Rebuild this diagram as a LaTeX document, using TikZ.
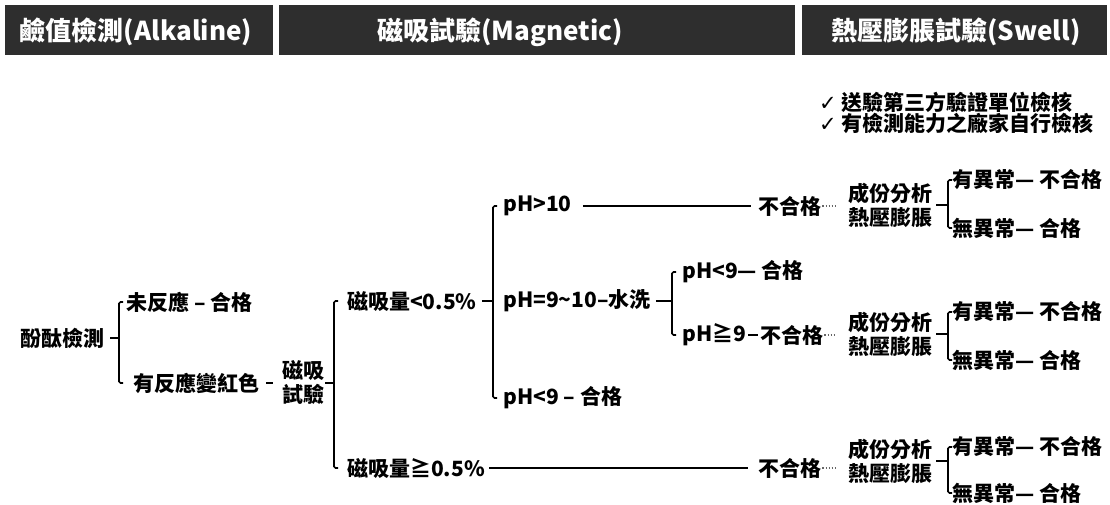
\documentclass[tikz,border=0pt]{standalone}
\usepackage{fontspec}
\setmainfont{Noto Sans CJK TC}
\newfontfamily\symfont{DejaVu Sans}
\usetikzlibrary{positioning}

\begin{document}
\begin{tikzpicture}[x=1pt, y=-1pt,
  txt/.style={anchor=west, inner sep=1pt, font=\bfseries\fontsize{21}{24}\selectfont},
  head/.style={text=white, inner sep=0pt, font=\bfseries\fontsize{26}{30}\selectfont},
  brk/.style={line width=1.6pt, rounded corners=1.5pt},
  link/.style={line width=1.5pt},
  dotline/.style={line width=1.1pt, dotted, black!60}]
  \useasboundingbox (0,0) rectangle (1110,504);
  % banners
  \foreach \i/\xa/\xb/\xt/\t in {1/5/273/136/{鹼值檢測(Alkaline)}, 2/279/795/500/{磁吸試驗(Magnetic)}, 3/802/1107/956/{熱壓膨脹試驗(Swell)}}
  {
    \fill[black!82] (\xa,5) rectangle (\xb,55);
    \node[head] (h\i) at (\xt,32) {\t};
  }
  \node[txt] (chk1) at (818,102) {{\symfont\mdseries ✓} 送驗第三方驗證單位檢核};
  \node[txt] (chk2) at (818,123) {{\symfont\mdseries ✓} 有檢測能力之廠家自行檢核};

  \node[txt] (root) at (19,338) {酚酞檢測};
  \node[txt] (n1) at (125,302) {未反應 – 合格};
  \node[txt] (n2) at (132,383) {有反應變紅色};
  \node[txt, align=left] (mag) at (281,383) {磁吸\\試驗};
  \node[txt] (m1) at (346,301) {磁吸量<0.5\%};
  \node[txt] (m2) at (346,468) {磁吸量≧0.5\%};
  \node[txt] (p1) at (502,206) {pH>10};
  \node[txt] (p2) at (502,301) {pH=9\textasciitilde10–水洗};
  \node[txt] (p3) at (502,398) {pH<9 – 合格};
  \node[txt] (q1) at (681,272) {pH<9— 合格};
  \node[txt] (q2) at (681,335) {pH≧9};
  \node[txt] (f1) at (757,206) {不合格};
  \node[txt] (f2) at (759,335) {不合格};
  \node[txt] (f3) at (757,468) {不合格};

  \coordinate (k1) at (119,338);
  \coordinate (k2) at (334,383);
  \coordinate (k3) at (493,301);
  \coordinate (k4) at (672,301);

  \path[link]
  (root) edge[shorten <=5pt] (k1)
  (n2) edge[shorten <=6pt, shorten >=8pt] (mag)
  (mag) edge (k2)
  (m1) edge[shorten <=4pt] (k3)
  (p2) edge[shorten <=4pt] (k4)
  (p1) edge[shorten <=10pt, shorten >=6pt] (f1)
  (q2) edge[shorten <=1pt, shorten >=1pt] (f2)
  (m2) edge[shorten <=3pt, shorten >=9pt] (f3)
  ;
  \draw[brk] ([xshift=4pt]k1 |- n1) -| (k1) |- ([xshift=4pt]k1 |- n2);
  \draw[brk] ([xshift=4pt]k2 |- m1) -| (k2) |- ([xshift=4pt]k2 |- m2);
  \draw[brk] ([xshift=4pt]k3 |- p1) -| (k3) |- ([xshift=4pt]k3 |- p3);
  \draw[brk] ([xshift=4pt]k4 |- q1) -| (k4) |- ([xshift=4pt]k4 |- q2);

  % component analysis / swell test
  \foreach \i/\ya/\yt/\yb in {1/205/180/228, 2/334/312/360, 3/461/447/493}
  {
    \node[txt, align=left] (a\i) at (847,\ya) {成份分析\\熱壓膨脹};
    \coordinate (ka\i) at (948,\ya);
    \node[txt] (u\i) at (951,\yt) {有異常— 不合格};
    \node[txt] (v\i) at (951,\yb) {無異常— 合格};
    \draw[link, shorten <=3pt] (a\i) -- (ka\i);
    \draw[brk] ([xshift=4pt]ka\i |- u\i) -| (ka\i) |- ([xshift=4pt]ka\i |- v\i);
    \draw[dotline, shorten >=12pt] (f\i.east) -- (f\i.east -| a\i.west);
  }
\end{tikzpicture}
\end{document}
